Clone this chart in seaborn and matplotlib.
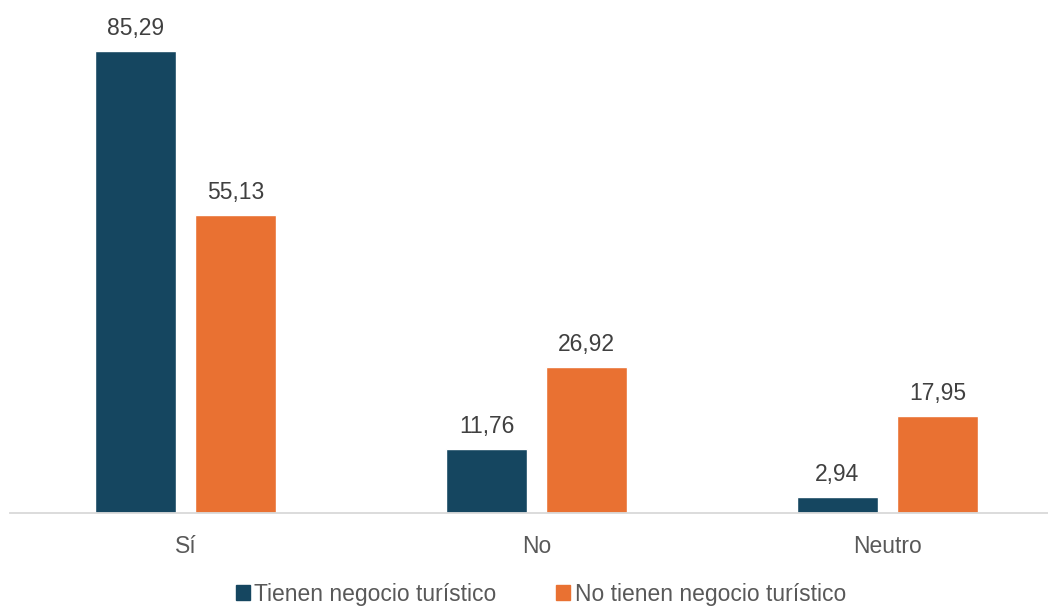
import pandas as pd
import matplotlib.pyplot as plt
import seaborn as sns
from matplotlib.patches import Patch

categorias = ['Sí', 'No', 'Neutro']
series = ['Tienen negocio turístico', 'No tienen negocio turístico']
tienen = [85.29, 11.76, 2.94]
no_tienen = [55.13, 26.92, 17.95]
colores = ['#154660', '#E97132']

df = pd.DataFrame({
    'Respuesta': categorias * 2,
    'Grupo': [series[0]] * 3 + [series[1]] * 3,
    'Valor': tienen + no_tienen,
})

sns.set_style('white')
plt.rcParams['font.family'] = ['Liberation Sans', 'DejaVu Sans']

fig = plt.figure(figsize=(10.48, 6.06), dpi=100)
ax = fig.add_axes([10 / 1048, 93 / 606, 1053 / 1048, 487 / 606])

sns.barplot(data=df, x='Respuesta', y='Valor', hue='Grupo', order=categorias,
            hue_order=series, palette=colores, width=0.57, gap=0.19,
            saturation=1, legend=False, ax=ax)

# etiquetas con coma decimal
for cont in ax.containers:
    labels = [f'{v:.2f}'.replace('.', ',') for v in cont.datavalues]
    ax.bar_label(cont, labels=labels, padding=8, fontsize=16.5, color='#404040')

ax.set_ylim(0, 90)
ax.set_xlim(-0.5, 2.5)
ax.set_xlabel('')
ax.set_ylabel('')
ax.set_yticks([])
for s in ['top', 'right', 'left']:
    ax.spines[s].set_visible(False)
ax.spines['bottom'].set_color('#D9D9D9')
ax.spines['bottom'].set_linewidth(1.3)
ax.tick_params(axis='x', length=0, pad=16, labelsize=16.5, labelcolor='#595959')

handles = [Patch(color=c, label=s) for c, s in zip(colores, series)]
fig.legend(handles=handles, loc='center', bbox_to_anchor=(541 / 1048, 1 - 594 / 606),
           ncol=2, frameon=False, fontsize=16.5, handlelength=0.6, handleheight=0.6,
           handletextpad=0.2, columnspacing=2.6, labelcolor='#595959')

fig.savefig('out.png', dpi=100)
